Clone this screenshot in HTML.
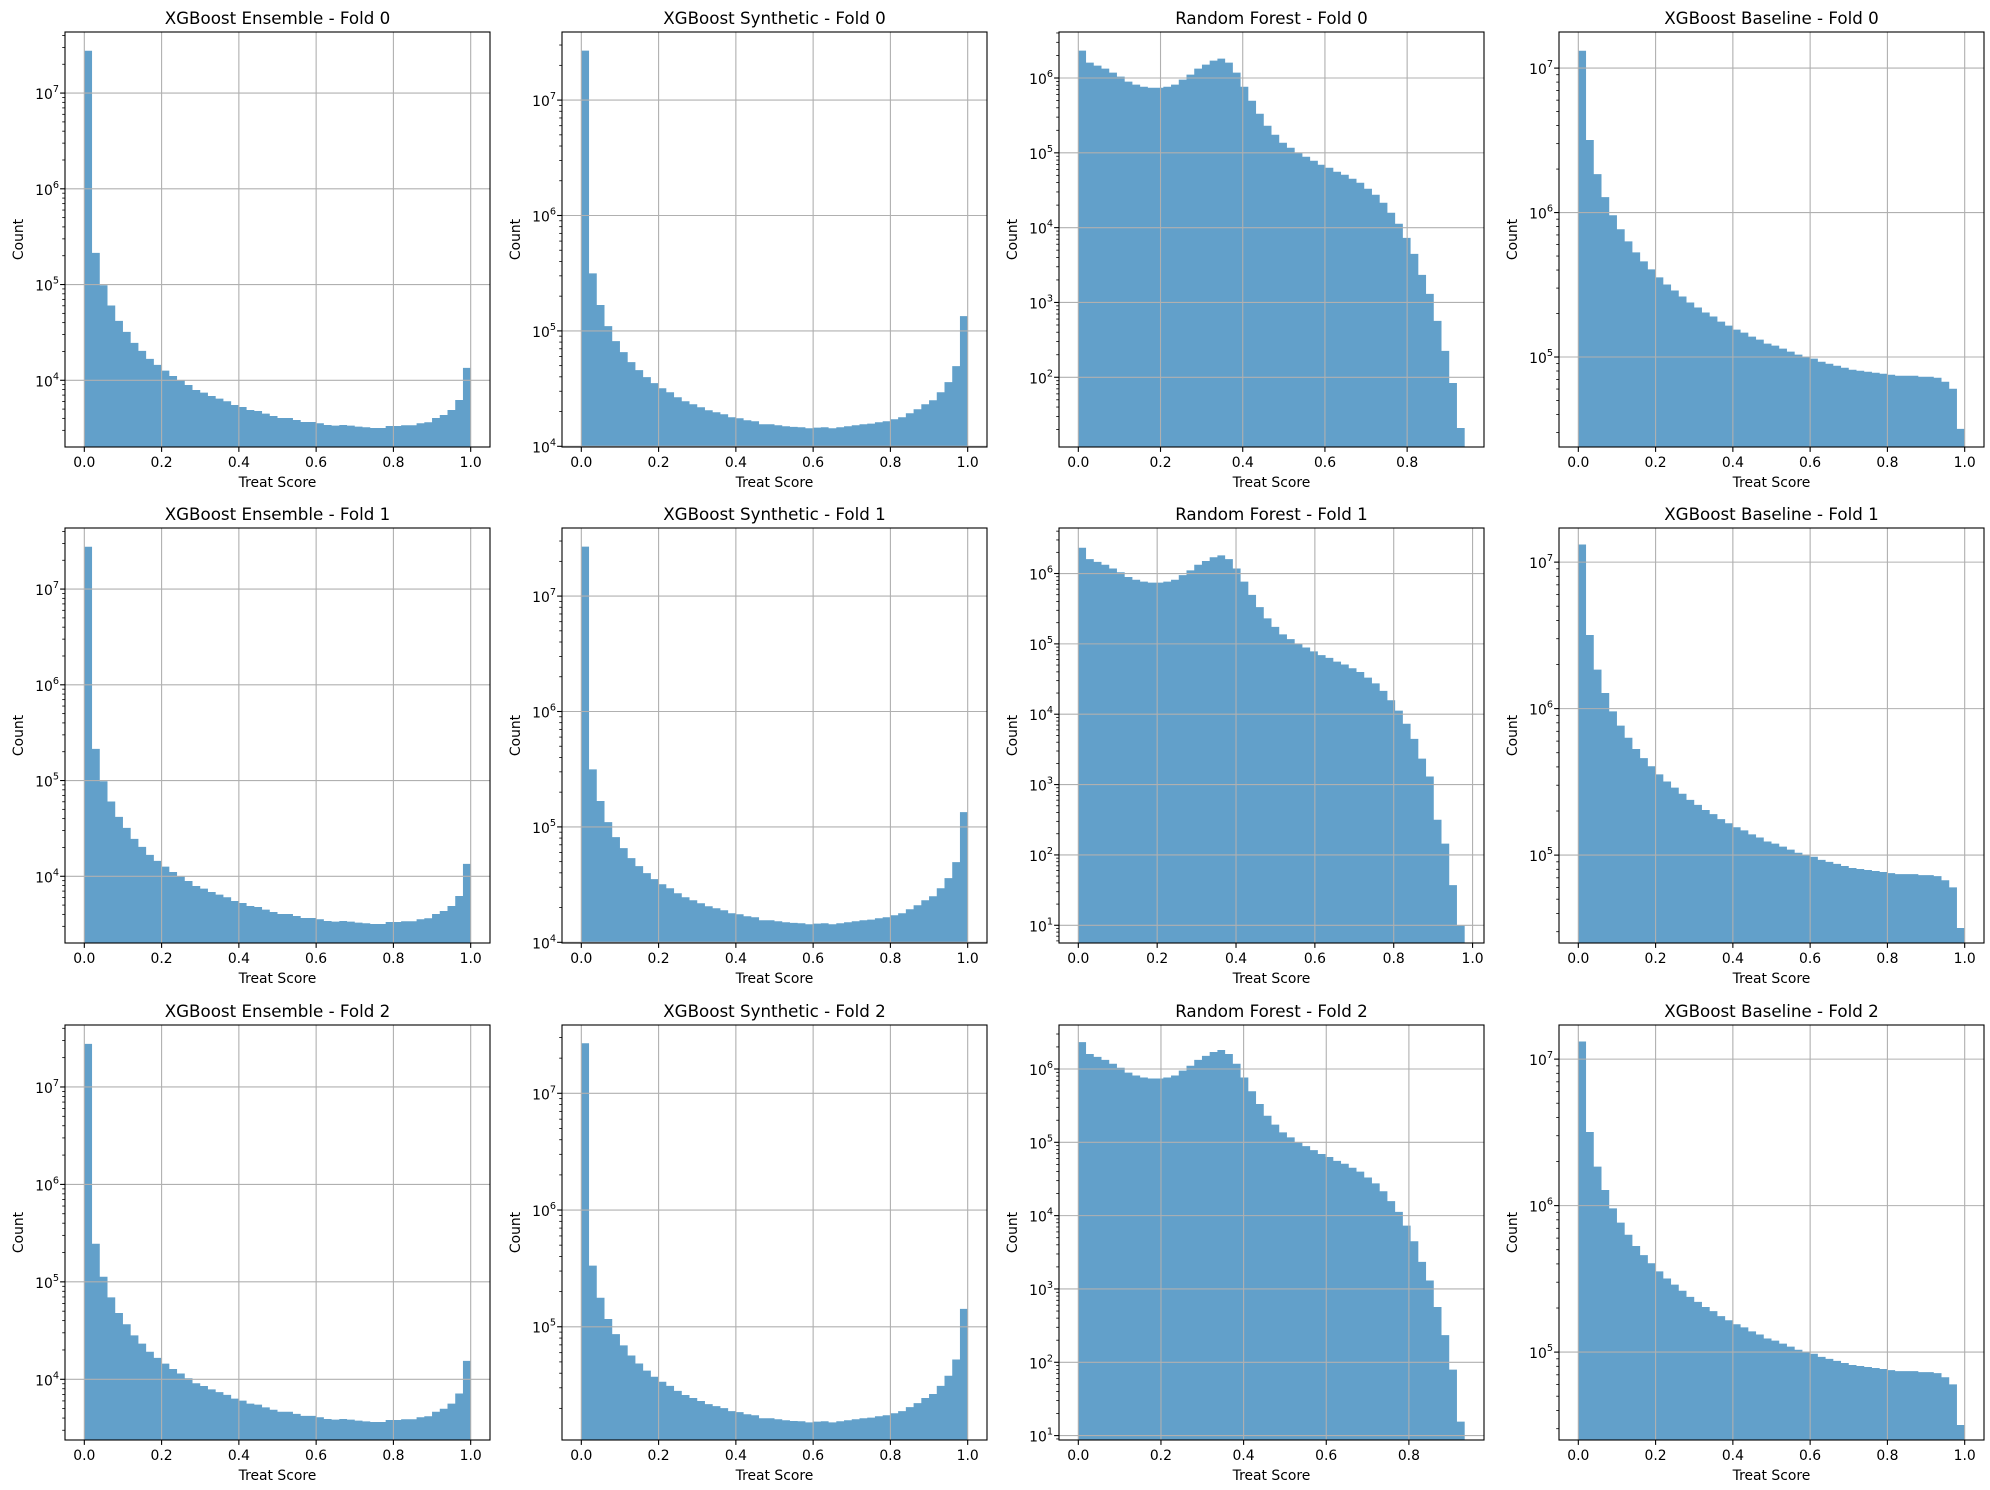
<!DOCTYPE html>
<html><head><meta charset="utf-8"><style>
html,body{margin:0;padding:0;background:#fff}
svg{display:block;font-family:"DejaVu Sans","Liberation Sans",sans-serif}
.t{font-size:16.7px;text-anchor:middle}
.xl{font-size:13.9px;text-anchor:middle}
.yt{font-size:13.9px;text-anchor:end}
.s{font-size:9.7px}
</style></head><body>
<svg id="fig" width="1990" height="1490" viewBox="0 0 1990 1490" xmlns="http://www.w3.org/2000/svg">
<rect width="1990" height="1490" fill="#fff"/>
<g id="plots"></g>
<g id="texts">
<g transform="translate(65,32)">
<text class="t" x="212.5" y="-8">XGBoost Ensemble - Fold 0</text>
<text class="xl" x="212.5" y="455">Treat Score</text>
<text class="xl" transform="translate(-42,207.5) rotate(-90)">Count</text>
<text class="xl" x="19.3" y="435">0.0</text><text class="xl" x="96.6" y="435">0.2</text><text class="xl" x="173.9" y="435">0.4</text><text class="xl" x="251.1" y="435">0.6</text><text class="xl" x="328.4" y="435">0.8</text><text class="xl" x="405.7" y="435">1.0</text>
<text class="yt" x="-6" y="67.1">10<tspan class="s" dy="-7">7</tspan></text>
<text class="yt" x="-6" y="162.8">10<tspan class="s" dy="-7">6</tspan></text>
<text class="yt" x="-6" y="258.6">10<tspan class="s" dy="-7">5</tspan></text>
<text class="yt" x="-6" y="354.3">10<tspan class="s" dy="-7">4</tspan></text>
</g>
<g transform="translate(562,32)">
<text class="t" x="212.5" y="-8">XGBoost Synthetic - Fold 0</text>
<text class="xl" x="212.5" y="455">Treat Score</text>
<text class="xl" transform="translate(-42,207.5) rotate(-90)">Count</text>
<text class="xl" x="19.3" y="435">0.0</text><text class="xl" x="96.6" y="435">0.2</text><text class="xl" x="173.9" y="435">0.4</text><text class="xl" x="251.1" y="435">0.6</text><text class="xl" x="328.4" y="435">0.8</text><text class="xl" x="405.7" y="435">1.0</text>
<text class="yt" x="-6" y="74.1">10<tspan class="s" dy="-7">7</tspan></text>
<text class="yt" x="-6" y="189.5">10<tspan class="s" dy="-7">6</tspan></text>
<text class="yt" x="-6" y="304.9">10<tspan class="s" dy="-7">5</tspan></text>
<text class="yt" x="-6" y="420.3">10<tspan class="s" dy="-7">4</tspan></text>
</g>
<g transform="translate(1059,32)">
<text class="t" x="212.5" y="-8">Random Forest - Fold 0</text>
<text class="xl" x="212.5" y="455">Treat Score</text>
<text class="xl" transform="translate(-42,207.5) rotate(-90)">Count</text>
<text class="xl" x="19.3" y="435">0.0</text><text class="xl" x="101.5" y="435">0.2</text><text class="xl" x="183.8" y="435">0.4</text><text class="xl" x="266.0" y="435">0.6</text><text class="xl" x="348.2" y="435">0.8</text>
<text class="yt" x="-6" y="52.0">10<tspan class="s" dy="-7">6</tspan></text>
<text class="yt" x="-6" y="126.8">10<tspan class="s" dy="-7">5</tspan></text>
<text class="yt" x="-6" y="201.6">10<tspan class="s" dy="-7">4</tspan></text>
<text class="yt" x="-6" y="276.5">10<tspan class="s" dy="-7">3</tspan></text>
<text class="yt" x="-6" y="351.3">10<tspan class="s" dy="-7">2</tspan></text>
</g>
<g transform="translate(1559,32)">
<text class="t" x="212.5" y="-8">XGBoost Baseline - Fold 0</text>
<text class="xl" x="212.5" y="455">Treat Score</text>
<text class="xl" transform="translate(-42,207.5) rotate(-90)">Count</text>
<text class="xl" x="19.3" y="435">0.0</text><text class="xl" x="96.6" y="435">0.2</text><text class="xl" x="173.9" y="435">0.4</text><text class="xl" x="251.1" y="435">0.6</text><text class="xl" x="328.4" y="435">0.8</text><text class="xl" x="405.7" y="435">1.0</text>
<text class="yt" x="-6" y="42.1">10<tspan class="s" dy="-7">7</tspan></text>
<text class="yt" x="-6" y="186.6">10<tspan class="s" dy="-7">6</tspan></text>
<text class="yt" x="-6" y="331.0">10<tspan class="s" dy="-7">5</tspan></text>
</g>
<g transform="translate(65,528)">
<text class="t" x="212.5" y="-8">XGBoost Ensemble - Fold 1</text>
<text class="xl" x="212.5" y="455">Treat Score</text>
<text class="xl" transform="translate(-42,207.5) rotate(-90)">Count</text>
<text class="xl" x="19.3" y="435">0.0</text><text class="xl" x="96.6" y="435">0.2</text><text class="xl" x="173.9" y="435">0.4</text><text class="xl" x="251.1" y="435">0.6</text><text class="xl" x="328.4" y="435">0.8</text><text class="xl" x="405.7" y="435">1.0</text>
<text class="yt" x="-6" y="67.1">10<tspan class="s" dy="-7">7</tspan></text>
<text class="yt" x="-6" y="162.8">10<tspan class="s" dy="-7">6</tspan></text>
<text class="yt" x="-6" y="258.6">10<tspan class="s" dy="-7">5</tspan></text>
<text class="yt" x="-6" y="354.3">10<tspan class="s" dy="-7">4</tspan></text>
</g>
<g transform="translate(562,528)">
<text class="t" x="212.5" y="-8">XGBoost Synthetic - Fold 1</text>
<text class="xl" x="212.5" y="455">Treat Score</text>
<text class="xl" transform="translate(-42,207.5) rotate(-90)">Count</text>
<text class="xl" x="19.3" y="435">0.0</text><text class="xl" x="96.6" y="435">0.2</text><text class="xl" x="173.9" y="435">0.4</text><text class="xl" x="251.1" y="435">0.6</text><text class="xl" x="328.4" y="435">0.8</text><text class="xl" x="405.7" y="435">1.0</text>
<text class="yt" x="-6" y="74.1">10<tspan class="s" dy="-7">7</tspan></text>
<text class="yt" x="-6" y="189.5">10<tspan class="s" dy="-7">6</tspan></text>
<text class="yt" x="-6" y="304.9">10<tspan class="s" dy="-7">5</tspan></text>
<text class="yt" x="-6" y="420.3">10<tspan class="s" dy="-7">4</tspan></text>
</g>
<g transform="translate(1059,528)">
<text class="t" x="212.5" y="-8">Random Forest - Fold 1</text>
<text class="xl" x="212.5" y="455">Treat Score</text>
<text class="xl" transform="translate(-42,207.5) rotate(-90)">Count</text>
<text class="xl" x="19.3" y="435">0.0</text><text class="xl" x="98.2" y="435">0.2</text><text class="xl" x="177.0" y="435">0.4</text><text class="xl" x="255.9" y="435">0.6</text><text class="xl" x="334.7" y="435">0.8</text><text class="xl" x="413.6" y="435">1.0</text>
<text class="yt" x="-6" y="51.5">10<tspan class="s" dy="-7">6</tspan></text>
<text class="yt" x="-6" y="121.9">10<tspan class="s" dy="-7">5</tspan></text>
<text class="yt" x="-6" y="192.2">10<tspan class="s" dy="-7">4</tspan></text>
<text class="yt" x="-6" y="262.6">10<tspan class="s" dy="-7">3</tspan></text>
<text class="yt" x="-6" y="332.9">10<tspan class="s" dy="-7">2</tspan></text>
<text class="yt" x="-6" y="403.3">10<tspan class="s" dy="-7">1</tspan></text>
</g>
<g transform="translate(1559,528)">
<text class="t" x="212.5" y="-8">XGBoost Baseline - Fold 1</text>
<text class="xl" x="212.5" y="455">Treat Score</text>
<text class="xl" transform="translate(-42,207.5) rotate(-90)">Count</text>
<text class="xl" x="19.3" y="435">0.0</text><text class="xl" x="96.6" y="435">0.2</text><text class="xl" x="173.9" y="435">0.4</text><text class="xl" x="251.1" y="435">0.6</text><text class="xl" x="328.4" y="435">0.8</text><text class="xl" x="405.7" y="435">1.0</text>
<text class="yt" x="-6" y="40.1">10<tspan class="s" dy="-7">7</tspan></text>
<text class="yt" x="-6" y="186.6">10<tspan class="s" dy="-7">6</tspan></text>
<text class="yt" x="-6" y="333.1">10<tspan class="s" dy="-7">5</tspan></text>
</g>
<g transform="translate(65,1025)">
<text class="t" x="212.5" y="-8">XGBoost Ensemble - Fold 2</text>
<text class="xl" x="212.5" y="455">Treat Score</text>
<text class="xl" transform="translate(-42,207.5) rotate(-90)">Count</text>
<text class="xl" x="19.3" y="435">0.0</text><text class="xl" x="96.6" y="435">0.2</text><text class="xl" x="173.9" y="435">0.4</text><text class="xl" x="251.1" y="435">0.6</text><text class="xl" x="328.4" y="435">0.8</text><text class="xl" x="405.7" y="435">1.0</text>
<text class="yt" x="-6" y="68.0">10<tspan class="s" dy="-7">7</tspan></text>
<text class="yt" x="-6" y="165.4">10<tspan class="s" dy="-7">6</tspan></text>
<text class="yt" x="-6" y="262.9">10<tspan class="s" dy="-7">5</tspan></text>
<text class="yt" x="-6" y="360.3">10<tspan class="s" dy="-7">4</tspan></text>
</g>
<g transform="translate(562,1025)">
<text class="t" x="212.5" y="-8">XGBoost Synthetic - Fold 2</text>
<text class="xl" x="212.5" y="455">Treat Score</text>
<text class="xl" transform="translate(-42,207.5) rotate(-90)">Count</text>
<text class="xl" x="19.3" y="435">0.0</text><text class="xl" x="96.6" y="435">0.2</text><text class="xl" x="173.9" y="435">0.4</text><text class="xl" x="251.1" y="435">0.6</text><text class="xl" x="328.4" y="435">0.8</text><text class="xl" x="405.7" y="435">1.0</text>
<text class="yt" x="-6" y="74.3">10<tspan class="s" dy="-7">7</tspan></text>
<text class="yt" x="-6" y="191.0">10<tspan class="s" dy="-7">6</tspan></text>
<text class="yt" x="-6" y="307.7">10<tspan class="s" dy="-7">5</tspan></text>
</g>
<g transform="translate(1059,1025)">
<text class="t" x="212.5" y="-8">Random Forest - Fold 2</text>
<text class="xl" x="212.5" y="455">Treat Score</text>
<text class="xl" transform="translate(-42,207.5) rotate(-90)">Count</text>
<text class="xl" x="19.3" y="435">0.0</text><text class="xl" x="101.9" y="435">0.2</text><text class="xl" x="184.5" y="435">0.4</text><text class="xl" x="267.2" y="435">0.6</text><text class="xl" x="349.9" y="435">0.8</text>
<text class="yt" x="-6" y="50.0">10<tspan class="s" dy="-7">6</tspan></text>
<text class="yt" x="-6" y="123.3">10<tspan class="s" dy="-7">5</tspan></text>
<text class="yt" x="-6" y="196.7">10<tspan class="s" dy="-7">4</tspan></text>
<text class="yt" x="-6" y="270.0">10<tspan class="s" dy="-7">3</tspan></text>
<text class="yt" x="-6" y="343.3">10<tspan class="s" dy="-7">2</tspan></text>
<text class="yt" x="-6" y="416.6">10<tspan class="s" dy="-7">1</tspan></text>
</g>
<g transform="translate(1559,1025)">
<text class="t" x="212.5" y="-8">XGBoost Baseline - Fold 2</text>
<text class="xl" x="212.5" y="455">Treat Score</text>
<text class="xl" transform="translate(-42,207.5) rotate(-90)">Count</text>
<text class="xl" x="19.3" y="435">0.0</text><text class="xl" x="96.6" y="435">0.2</text><text class="xl" x="173.9" y="435">0.4</text><text class="xl" x="251.1" y="435">0.6</text><text class="xl" x="328.4" y="435">0.8</text><text class="xl" x="405.7" y="435">1.0</text>
<text class="yt" x="-6" y="40.1">10<tspan class="s" dy="-7">7</tspan></text>
<text class="yt" x="-6" y="186.6">10<tspan class="s" dy="-7">6</tspan></text>
<text class="yt" x="-6" y="333.1">10<tspan class="s" dy="-7">5</tspan></text>
</g>
</g>
</svg>
<script>
(function(){
var L=[65,562,1059,1559],T=[32,528,1025],W=425,H=415;
function conv(a,f){return a.map(f);}
var ens=conv([153,759,856,917,963,996,1029,1053,1077,1095,1112,1128,1141,1155,1170,1178,1188,1196,1204,1215,1221,1230,1233,1241,1248,1254,1254,1260,1266,1266,1270,1275,1277,1275,1277,1280,1282,1284,1284,1278,1278,1276,1276,1270,1267,1254,1245,1230,1200,1104],function(y){return 7+(280-y)/287;});
var syn=conv([153,820,915,978,1023,1056,1086,1110,1131,1149,1164,1176,1191,1203,1212,1221,1230,1236,1242,1251,1254,1260,1263,1272,1272,1275,1278,1280,1281,1284,1282,1281,1284,1281,1278,1275,1272,1270,1266,1263,1257,1251,1239,1227,1212,1200,1176,1146,1098,948],function(y){return 7+(301-y)/345.7;});
var rf=conv([153,189,198,207,219,231,246,255,261,264,264,261,255,240,225,207,195,183,177,189,219,261,303,342,378,405,429,444,459,471,483,495,504,516,525,537,549,567,585,609,639,672,714,762,825,882,963,1053,1149,1284],function(y){return 6+(235-y)/224.25;});
var base=conv([153,420,522,591,645,687,723,756,783,807,831,852,870,888,906,921,936,948,963,975,987,996,1008,1017,1029,1035,1044,1053,1062,1068,1074,1083,1089,1095,1101,1107,1110,1113,1116,1119,1122,1125,1125,1125,1128,1128,1131,1143,1164,1284],function(y){return 7-(y-205)/432;});
var rf1=rf.slice();rf1[46]=2.5;rf1[47]=2.16;rf1[48]=1.57;rf1[49]=1.0;
var rf2=rf.slice();rf2[47]=2.37;rf2[48]=1.9;rf2[49]=1.19;
var ens2=ens.map(function(v,i){return i?v+0.06:v;});
var syn2=syn.map(function(v,i){return i?v+0.025:v;});
var P=[
[0,0,3.303,7.638,1,ens],[1,0,3.994,7.59,1,syn],[2,0,1.068,6.615,0.94,rf],[3,0,4.377,7.25,1,base],
[0,1,3.303,7.638,1,ens],[1,1,3.994,7.59,1,syn],[2,1,0.748,6.647,0.98,rf1],[3,1,4.40,7.233,1,base],
[0,2,3.377,7.636,1,ens2],[1,2,4.03,7.585,1,syn2],[2,2,0.94,6.60,0.935,rf2],[3,2,4.40,7.233,1,base]];
var s='';
P.forEach(function(p){
 var c=p[0],r=p[1],y0=p[2],y1=p[3],R=p[4],d=p[5],n=d.length;
 function X(v){return (v+0.05*R)/(1.1*R)*W;}
 function Y(l){var y=H*(y1-l)/(y1-y0);return Math.max(0,Math.min(H,y));}
 s+='<g transform="translate('+L[c]+','+T[r]+')">';
 var path='M'+X(0).toFixed(2)+','+H;
 for(var i=0;i<n;i++){var xa=X(R*i/n),xb=X(R*(i+1)/n),yy=Y(d[i]).toFixed(2);
  path+=' L'+xa.toFixed(2)+','+yy+' L'+xb.toFixed(2)+','+yy;}
 path+=' L'+X(R).toFixed(2)+','+H+' Z';
 s+='<path d="'+path+'" fill="#1f77b4" fill-opacity="0.7"/>';
 var xt=[];for(var v=0;v<=R+1e-9;v+=0.2)xt.push(X(v));
 if(R>=0.98&&xt.length<6)xt.push(X(1));
 xt.forEach(function(x){s+='<line x1="'+x+'" y1="0" x2="'+x+'" y2="'+H+'" stroke="#b0b0b0" stroke-width="1.1"/>';
  s+='<line x1="'+x+'" y1="'+H+'" x2="'+x+'" y2="'+(H+4.9)+'" stroke="#000" stroke-width="1.1"/>';});
 for(var k=Math.floor(y0);k<=Math.ceil(y1);k++){
  if(k>=y0&&k<=y1){var y=Y(k);
   s+='<line x1="0" y1="'+y+'" x2="'+W+'" y2="'+y+'" stroke="#b0b0b0" stroke-width="1.1"/>';
   s+='<line x1="-4.9" y1="'+y+'" x2="0" y2="'+y+'" stroke="#000" stroke-width="1.1"/>';}
  for(var m=2;m<=9;m++){var l=k+Math.log10(m);if(l>y0&&l<y1){var ym=Y(l);
   s+='<line x1="-2.8" y1="'+ym+'" x2="0" y2="'+ym+'" stroke="#000" stroke-width="0.8"/>';}}
 }
 s+='<rect x="0" y="0" width="'+W+'" height="'+H+'" fill="none" stroke="#000" stroke-width="1.1"/>';
 s+='</g>';
});
document.getElementById('plots').innerHTML=s;
})();
</script>
</body></html>
